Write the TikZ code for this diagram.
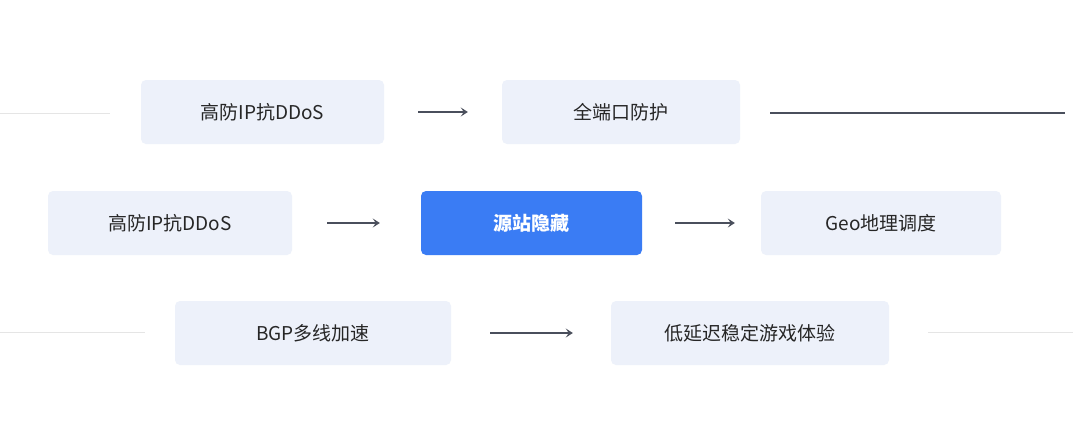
\documentclass[tikz,border=0pt]{standalone}
\usepackage{fontspec}
\setmainfont{Noto Sans CJK SC}
\usetikzlibrary{arrows.meta}
\definecolor{boxf}{HTML}{EDF1FA}
\definecolor{blu}{HTML}{3A7CF4}
\definecolor{arr}{HTML}{4A4F5C}
\begin{document}
\begin{tikzpicture}[x=1pt,y=-1pt,
 box/.style={fill=boxf,rounded corners=5pt,inner sep=0pt,font=\fontsize{19}{22}\selectfont\color{black!85}},
 hl/.style={fill=blu,rounded corners=5pt,inner sep=0pt,font=\fontsize{19}{22}\selectfont\bfseries\color{white}},
 ar/.style={draw=arr,line width=1.2pt,-{Stealth[length=7pt,width=9pt,inset=3pt]}},
 faint/.style={draw=black!10,line width=0.8pt}]
\useasboundingbox[fill=white] (0,0) rectangle (1073,428);
\node[box,minimum width=243,minimum height=64] (a1) at (262.5,112) {高防IP抗DDoS};
\node[box,minimum width=238,minimum height=64] (a2) at (621,112) {全端口防护};
\node[box,minimum width=244,minimum height=64] (b1) at (170,223) {高防IP抗DDoS};
\node[hl,minimum width=221,minimum height=64] (b2) at (531.5,223) {源站隐藏};
\node[box,minimum width=240,minimum height=64] (b3) at (881,223) {Geo地理调度};
\node[box,minimum width=276,minimum height=64] (c1) at (313,333) {BGP多线加速};
\node[box,minimum width=278,minimum height=64] (c2) at (750,333) {低延迟稳定游戏体验};
\coordinate (l1s) at (0,113); \coordinate (l1e) at (110,113);
\coordinate (r1s) at (770,113); \coordinate (r1e) at (1065,113);
\coordinate (l3s) at (0,332); \coordinate (l3e) at (145,332);
\coordinate (r3s) at (928,332); \coordinate (r3e) at (1073,332);
\draw[faint] (l1s)--(l1e); \draw[faint] (l3s)--(l3e); \draw[faint] (r3s)--(r3e);
\draw[draw=arr,line width=1.2pt] (r1s)--(r1e);
\draw[ar] ([xshift=34]a1.east)--([xshift=-34]a2.west);
\draw[ar] ([xshift=35]b1.east)--([xshift=-41]b2.west);
\draw[ar] ([xshift=33]b2.east)--([xshift=-26]b3.west);
\draw[ar] ([xshift=39]c1.east)--([xshift=-38]c2.west);
\end{tikzpicture}
\end{document}
